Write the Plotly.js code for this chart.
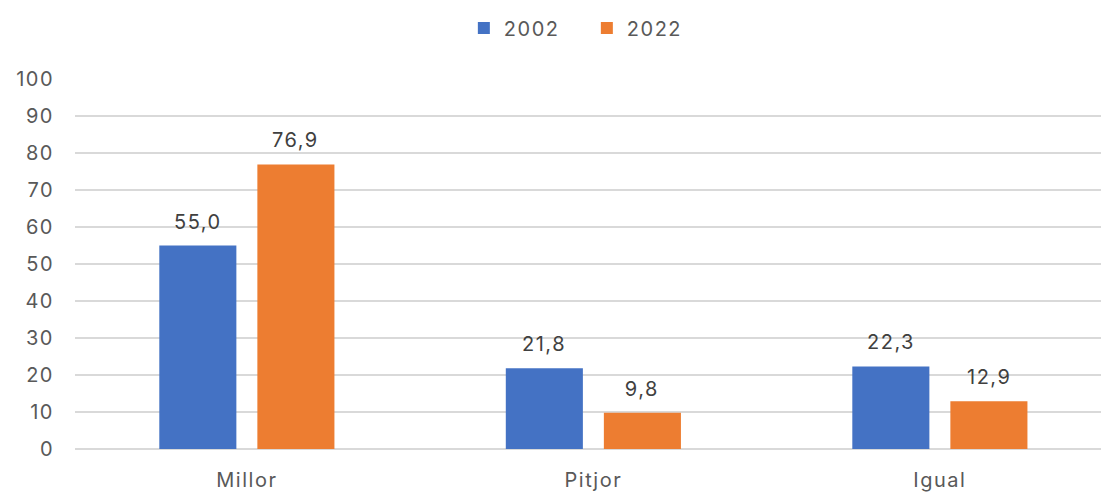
<!DOCTYPE html>
<html><head><meta charset="utf-8">
<script src="https://cdn.plot.ly/plotly-3.0.1.min.js"></script>
<style>html,body{margin:0;padding:0;background:#fff}#chart{width:1101px;height:493px}
#chart svg text{letter-spacing:1.5px}</style>
</head><body><div id="chart"></div>
<script>
const categories = ['Millor', 'Pitjor', 'Igual'];
const series2002 = [55.0, 21.8, 22.3];
const series2022 = [76.9, 9.8, 12.9];
const seriesNames = ['2002', '2022'];
const colors = ['#4472C4', '#ED7D31'];

const fontFam = 'Inter, Roboto, sans-serif';
const fs = 20;
const traces = [series2002, series2022].map((vals, i) => ({
  type: 'bar', x: categories, y: vals, name: seriesNames[i],
  marker: {color: colors[i]}, hoverinfo: 'skip'
}));

const annotations = [];
[series2002, series2022].forEach((vals, i) => {
  vals.forEach((v, j) => {
    annotations.push({
      x: categories[j], y: v, xref: 'x', yref: 'y',
      text: v.toFixed(1).replace('.', ','), showarrow: false,
      xshift: i === 0 ? -49 : 49, yanchor: 'bottom', yshift: 10,
      font: {family: fontFam, size: fs, color: '#404040'}
    });
  });
});

const layout = {
  width: 1101, height: 493,
  margin: {l: 75, r: 0, t: 79, b: 44},
  paper_bgcolor: '#fff', plot_bgcolor: '#fff',
  barmode: 'group', bargap: 0.434, bargroupgap: 0.214,
  font: {family: fontFam, size: fs, color: '#595959'},
  showlegend: true,
  legend: {orientation: 'h', x: 0.379, xanchor: 'left', y: 1.138, yanchor: 'middle',
    font: {family: fontFam, size: fs, color: '#595959'}, itemwidth: 30, entrywidth: 78,
    traceorder: 'normal'},
  xaxis: {range: [-0.496, 2.465], showgrid: false, zeroline: false, showline: false,
    ticks: 'outside', ticklen: 13, tickcolor: 'rgba(0,0,0,0)', fixedrange: true,
    tickfont: {family: fontFam, size: fs, color: '#595959'}},
  yaxis: {range: [0, 100], dtick: 10, showgrid: true, gridcolor: '#d9d9d9', gridwidth: 1.5,
    zeroline: true, zerolinecolor: '#d9d9d9', zerolinewidth: 2, showline: false,
    ticks: 'outside', ticklen: 16, tickcolor: 'rgba(0,0,0,0)', fixedrange: true,
    tickfont: {family: fontFam, size: fs, color: '#595959'}},
  annotations: annotations
};
Plotly.newPlot('chart', traces, layout, {displayModeBar: false, staticPlot: true});
</script></body></html>
